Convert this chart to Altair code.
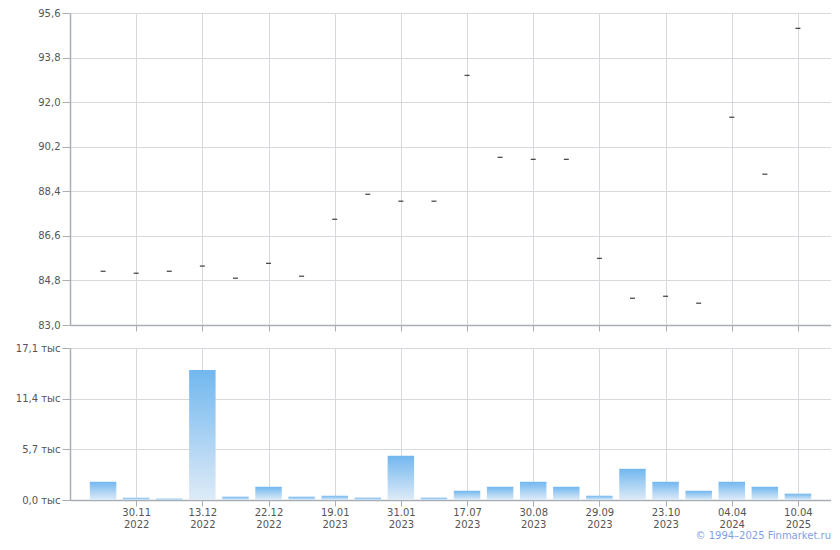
import altair as alt
import pandas as pd

# ---- data ----
tick_labels = ["30.11 2022", "13.12 2022", "22.12 2022", "19.01 2023", "31.01 2023",
               "17.07 2023", "30.08 2023", "29.09 2023", "23.10 2023", "04.04 2024",
               "10.04 2025"]
prices = [85.17, 85.09, 85.17, 85.38, 84.89, 85.49, 84.97, 87.27, 88.28, 88.00, 88.00,
          93.08, 89.77, 89.69, 89.69, 85.69, 84.08, 84.16, 83.88, 91.39, 89.09, 94.98]
volumes = [2050, 260, 150, 14630, 370, 1490, 370, 480, 260, 4970, 260,
           1040, 1490, 2050, 1490, 480, 3510, 2050, 1040, 2050, 1490, 710]
price_ticks = [83.0, 84.8, 86.6, 88.4, 90.2, 92.0, 93.8, 95.6]
volume_ticks = [0, 5700, 11400, 17100]

n = len(prices)
df = pd.DataFrame({"idx": list(range(n)), "price": prices, "volume": volumes})
tick_positions = list(range(1, n, 2))

FONT = "DejaVu Sans"
LABEL_COLOR = "#555555"
GRID = "#d6dadf"
DOMAIN = "#a9aeb5"

arr = "[" + ",".join("'%s'" % t for t in tick_labels) + "]"
x_label_expr = f"split({arr}[(datum.value - 1) / 2], ' ')"

x_scale = alt.Scale(domain=[-1, n], nice=False, zero=False)

top = alt.Chart(df).mark_tick(orient="horizontal", size=5, thickness=1.3, color="#000000").encode(
    x=alt.X("idx:Q", scale=x_scale,
            axis=alt.Axis(values=tick_positions, labels=False, ticks=True, tickSize=6,
                          grid=True, title=None, domain=True)),
    y=alt.Y("price:Q", scale=alt.Scale(domain=[83.0, 95.6], nice=False, zero=False),
            axis=alt.Axis(values=price_ticks, title=None, tickSize=8, labelPadding=2,
                          minExtent=55, maxExtent=55,
                          labelExpr="replace(format(datum.value, '.1f'), '.', ',')")),
).properties(width=761, height=312)

gradient = alt.Gradient(
    gradient="linear",
    stops=[alt.GradientStop(color="#72b7ef", offset=0),
           alt.GradientStop(color="#deebf7", offset=1)],
    x1=0, x2=0, y1=0, y2=1,
)

bottom = alt.Chart(df).transform_calculate(
    x0="datum.idx - 0.4", x1="datum.idx + 0.4"
).mark_bar(color=gradient).encode(
    x=alt.X("x0:Q", scale=x_scale,
            axis=alt.Axis(values=tick_positions, labelExpr=x_label_expr, tickSize=6,
                          labelPadding=1, labelLineHeight=12, grid=True, title=None)),
    x2="x1:Q",
    y=alt.Y("volume:Q", scale=alt.Scale(domain=[0, 17100], nice=False),
            axis=alt.Axis(values=volume_ticks, title=None, tickSize=8, labelPadding=2,
                          minExtent=55, maxExtent=55,
                          labelExpr="replace(format(datum.value / 1000, '.1f'), '.', ',') + ' тыс'")),
    y2=alt.datum(0),
).properties(
    width=761, height=152,
    title=alt.TitleParams("© 1994–2025 Finmarket.ru", orient="bottom", anchor="end",
                          color="#7f9fe3", fontSize=10, font=FONT, fontWeight="normal",
                          offset=2),
)

chart = alt.vconcat(top, bottom, spacing=23, bounds="flush").properties(
    padding={"left": 7, "top": 0, "right": 0, "bottom": 0}
).configure_view(stroke=None).configure_axis(
    labelFont=FONT, labelFontSize=10, labelColor=LABEL_COLOR,
    gridColor=GRID, gridWidth=1, domainColor=DOMAIN, tickColor=DOMAIN,
    domainWidth=1.5,
)

chart.save("out.html", embed_options={"renderer": "svg", "actions": False})
